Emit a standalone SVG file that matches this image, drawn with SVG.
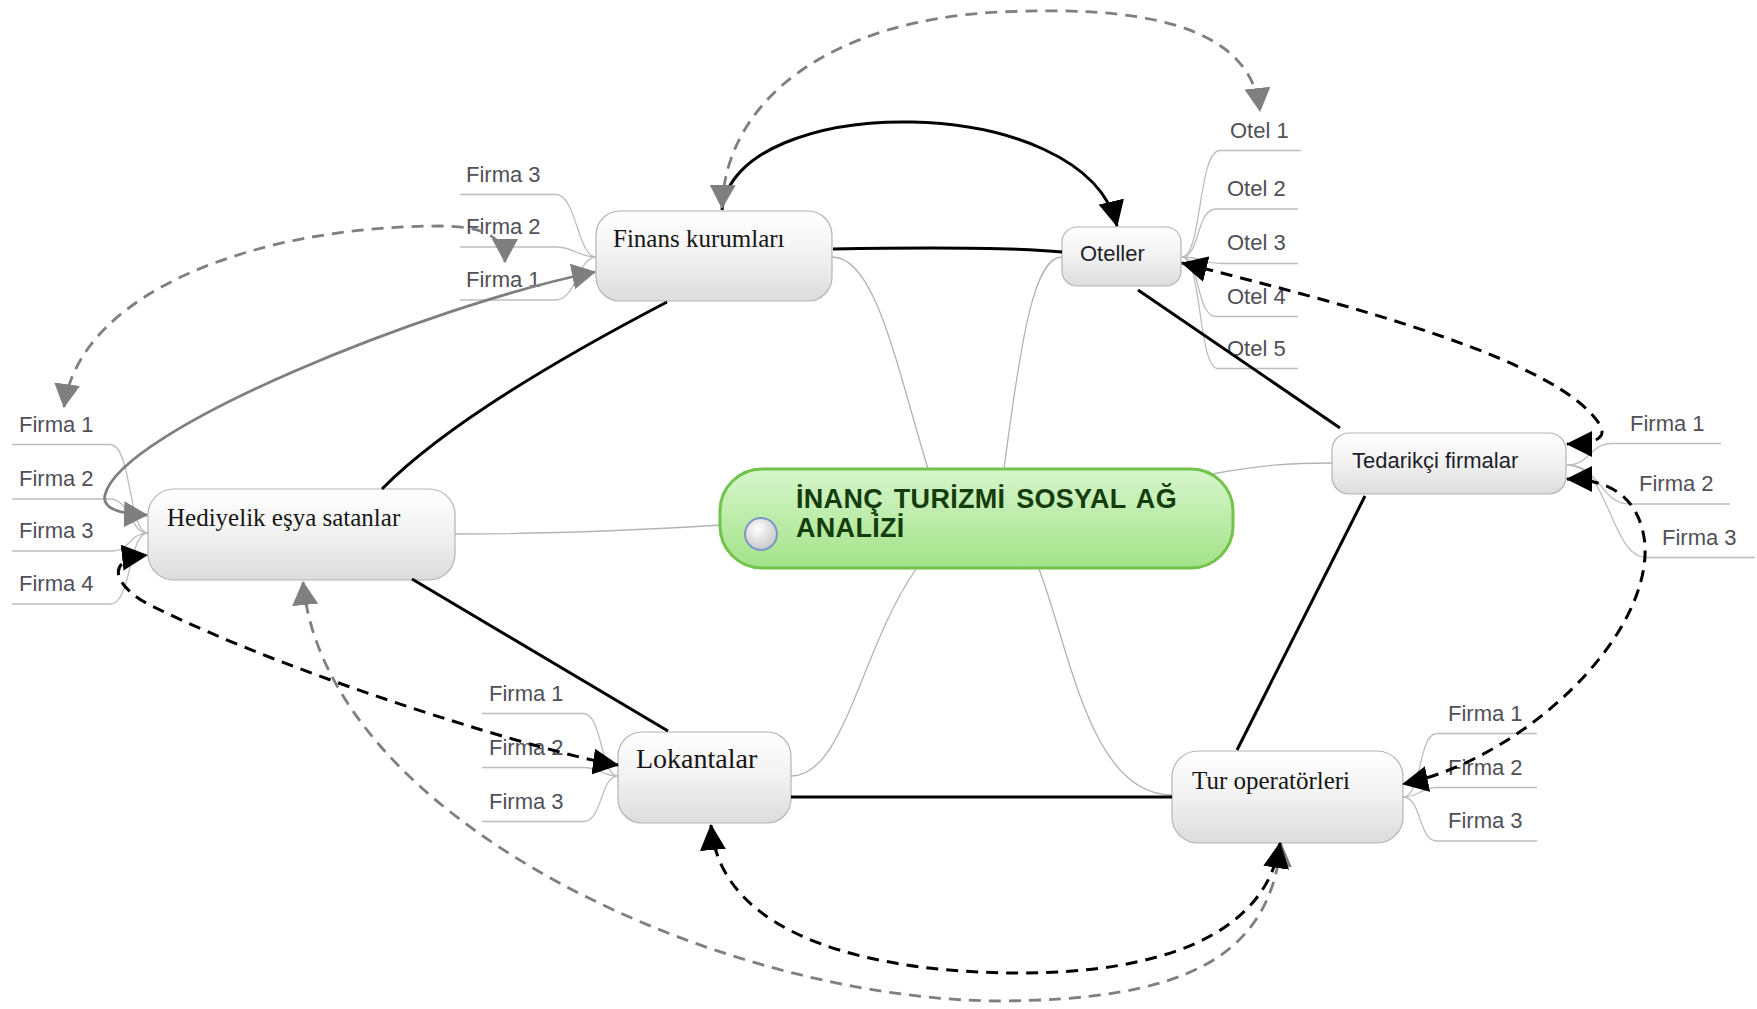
<svg xmlns="http://www.w3.org/2000/svg" width="1757" height="1009" viewBox="0 0 1757 1009">
<defs>
<linearGradient id="ng" x1="0" y1="0" x2="0" y2="1">
<stop offset="0" stop-color="#ffffff"/>
<stop offset="0.45" stop-color="#f3f3f3"/>
<stop offset="1" stop-color="#dcdcdc"/>
</linearGradient>
<linearGradient id="cg" x1="0" y1="0" x2="0" y2="1">
<stop offset="0" stop-color="#d6f6cc"/>
<stop offset="1" stop-color="#a3e288"/>
</linearGradient>
<radialGradient id="bg" cx="0.4" cy="0.35" r="0.7">
<stop offset="0" stop-color="#ffffff"/>
<stop offset="1" stop-color="#c4c4c4"/>
</radialGradient>
<marker id="ab" markerUnits="userSpaceOnUse" viewBox="0 0 26 26" markerWidth="26" markerHeight="26" refX="25" refY="13" orient="auto-start-reverse">
<path d="M0,0 L26,13 L0,26 z" fill="#000"/>
</marker>
<marker id="ag" markerUnits="userSpaceOnUse" viewBox="0 0 24 26" markerWidth="24" markerHeight="26" refX="23" refY="13" orient="auto-start-reverse">
<path d="M0,0 L24,13 L0,26 z" fill="#7f7f7f"/>
</marker>
</defs>
<style>
.node{fill:url(#ng);stroke:#b4b4b4;stroke-width:1.2}
.serif{font-family:"Liberation Serif","Times New Roman",serif;font-size:25px;fill:#151515}
.sans{font-family:"Liberation Sans",Arial,sans-serif;font-size:22px;fill:#1e1e2a}
.lbl{font-family:"Liberation Sans",Arial,sans-serif;font-size:22px;fill:#505058}
.br{fill:none;stroke:#b3b3b3;stroke-width:1.3}
.sub{fill:none;stroke:#bdbdbd;stroke-width:1.3}
.bk{fill:none;stroke:#000;stroke-width:3}
.bkd{fill:none;stroke:#000;stroke-width:3;stroke-dasharray:12 8}
.gyd{fill:none;stroke:#7f7f7f;stroke-width:2.8;stroke-dasharray:12 8}
.gy{fill:none;stroke:#7f7f7f;stroke-width:2.8}
.title{font-family:"Liberation Sans",Arial,sans-serif;font-size:27px;font-weight:bold;fill:#143c0c;letter-spacing:0.3px;word-spacing:3px}
</style>

<g id="branches">
<path class="br" d="M832,257 C875,257 895,360 928,469"/>
<path class="br" d="M1062,257 C1035,257 1022,330 1004,469"/>
<path class="br" d="M1332,463 C1290,463 1260,465 1212,474"/>
<path class="br" d="M455,534 C560,534 640,530 721,525"/>
<path class="br" d="M791,776 C845,776 860,650 916,569"/>
<path class="br" d="M1039,569 C1070,650 1090,795 1172,795"/>
<path class="sub" d="M460,194.5 H556 C576,194.5 578,257 596,257"/>
<path class="sub" d="M460,247 H556 C574,247 578,257 596,257"/>
<path class="sub" d="M460,300 H556 C576,300 578,257 596,257"/>
<path class="sub" d="M12,444.5 H110 C132,444.5 128,533 148,533"/>
<path class="sub" d="M12,499 H110 C130,499 130,533 148,533"/>
<path class="sub" d="M12,551 H112 C130,551 130,533 148,533"/>
<path class="sub" d="M12,604 H110 C132,604 128,533 148,533"/>
<path class="sub" d="M482,713.5 H583 C603,713.5 600,776 618,776"/>
<path class="sub" d="M482,767.5 H583 C600,767.5 602,776 618,776"/>
<path class="sub" d="M482,821.5 H583 C603,821.5 600,776 618,776"/>
<path class="sub" d="M1182,257 C1202,257 1198,150.5 1220,150.5 H1301"/>
<path class="sub" d="M1182,257 C1200,257 1196,209 1216,209 H1298"/>
<path class="sub" d="M1182,257 C1200,257 1204,263.5 1222,263.5 H1298"/>
<path class="sub" d="M1182,257 C1200,257 1196,316.5 1216,316.5 H1298"/>
<path class="sub" d="M1182,257 C1202,257 1198,368.5 1218,368.5 H1298"/>
<path class="sub" d="M1567,465 C1590,465 1590,443.5 1612,443.5 H1721"/>
<path class="sub" d="M1567,465 C1600,465 1600,504 1630,504 H1730"/>
<path class="sub" d="M1567,465 C1610,465 1610,557.5 1647,557.5 H1755"/>
<path class="sub" d="M1403,797 C1422,797 1418,733.5 1437,733.5 H1537"/>
<path class="sub" d="M1403,797 C1420,797 1420,787.5 1437,787.5 H1537"/>
<path class="sub" d="M1403,797 C1422,797 1418,841 1437,841 H1537"/>
</g>

<g id="center">
<rect x="720" y="469" width="513" height="99" rx="42" fill="url(#cg)" stroke="#72c24c" stroke-width="3"/>
<circle cx="761" cy="534" r="16" fill="url(#bg)" stroke="#7b98c8" stroke-width="2"/>
<text class="title" x="796" y="508">İNANÇ TURİZMİ SOSYAL AĞ</text>
<text class="title" x="796" y="537">ANALİZİ</text>
</g>

<g id="finans"><rect class="node" x="596" y="211" width="236" height="90" rx="24"/><text class="serif" x="613" y="246.5">Finans kurumları</text></g>
<g id="oteller"><rect class="node" x="1062" y="227" width="119" height="59" rx="15"/><text class="sans" x="1080" y="261">Oteller</text></g>
<g id="tedarikci"><rect class="node" x="1332" y="433" width="234" height="61" rx="17"/><text class="sans" x="1352" y="468">Tedarikçi firmalar</text></g>
<g id="hediyelik"><rect class="node" x="148" y="489" width="307" height="91" rx="26"/><text class="serif" x="167" y="526">Hediyelik eşya satanlar</text></g>
<g id="lokantalar"><rect class="node" x="618" y="732" width="173" height="91" rx="24"/><text class="serif" x="636" y="768" style="font-size:28px">Lokantalar</text></g>
<g id="tur"><rect class="node" x="1172" y="751" width="231" height="92" rx="26"/><text class="serif" x="1192" y="789">Tur operatörleri</text></g>

<g id="finans-firma3"><text class="lbl" x="466" y="181.5">Firma 3</text></g>
<g id="finans-firma2"><text class="lbl" x="466" y="234">Firma 2</text></g>
<g id="finans-firma1"><text class="lbl" x="466" y="287">Firma 1</text></g>
<g id="hediyelik-firma1"><text class="lbl" x="19" y="431.5">Firma 1</text></g>
<g id="hediyelik-firma2"><text class="lbl" x="19" y="486">Firma 2</text></g>
<g id="hediyelik-firma3"><text class="lbl" x="19" y="538">Firma 3</text></g>
<g id="hediyelik-firma4"><text class="lbl" x="19" y="591">Firma 4</text></g>
<g id="lokantalar-firma1"><text class="lbl" x="489" y="701">Firma 1</text></g>
<g id="lokantalar-firma2"><text class="lbl" x="489" y="755">Firma 2</text></g>
<g id="lokantalar-firma3"><text class="lbl" x="489" y="808.5">Firma 3</text></g>
<g id="otel1"><text class="lbl" x="1230" y="137.5">Otel 1</text></g>
<g id="otel2"><text class="lbl" x="1227" y="196">Otel 2</text></g>
<g id="otel3"><text class="lbl" x="1227" y="250">Otel 3</text></g>
<g id="otel4"><text class="lbl" x="1227" y="303.5">Otel 4</text></g>
<g id="otel5"><text class="lbl" x="1227" y="355.5">Otel 5</text></g>
<g id="tedarikci-firma1"><text class="lbl" x="1630" y="430.5">Firma 1</text></g>
<g id="tedarikci-firma2"><text class="lbl" x="1639" y="491">Firma 2</text></g>
<g id="tedarikci-firma3"><text class="lbl" x="1662" y="544.5">Firma 3</text></g>
<g id="tur-firma1"><text class="lbl" x="1448" y="720.5">Firma 1</text></g>
<g id="tur-firma2"><text class="lbl" x="1448" y="774.5">Firma 2</text></g>
<g id="tur-firma3"><text class="lbl" x="1448" y="828">Firma 3</text></g>

<g id="connectors">
<path class="bk" d="M833,249 C950,247 1020,248 1062,252"/>
<path class="bk" d="M1138,290 L1340,428"/>
<path class="bk" d="M1365,496 L1237,750"/>
<path class="bk" d="M791,797 L1172,797"/>
<path class="bk" d="M668,731 L412,579"/>
<path class="bk" d="M667,302 Q460,410 382,489"/>
<path class="bk" d="M722,210 C735,90 1085,90 1117,226" marker-end="url(#ab)"/>
<path class="gyd" d="M722,208 C725,100 830,20 1000,12 C1130,6 1250,20 1260,111" marker-start="url(#ag)" marker-end="url(#ag)"/>
<path class="gyd" d="M505,262 C505,235 480,226 440,226 C260,226 80,290 64,407" marker-start="url(#ag)" marker-end="url(#ag)"/>
<path class="gy" d="M595,272 C430,305 120,430 105,495 C102,508 118,514 147,515" marker-start="url(#ag)" marker-end="url(#ag)"/>
<path class="gyd" d="M303,582 C325,820 720,1000 1000,1001 C1180,1000 1270,960 1281,843" marker-start="url(#ag)" marker-end="url(#ag)"/>
<path class="bkd" d="M711,825 C720,940 880,973 1020,973 C1150,973 1265,940 1280,843" marker-start="url(#ab)" marker-end="url(#ab)"/>
<path class="bkd" d="M618,765 C560,757 300,680 150,605 C118,589 100,560 147,555" marker-start="url(#ab)" marker-end="url(#ab)"/>
<path class="bkd" d="M1182,263 C1350,305 1560,360 1600,425 C1606,436 1600,444 1567,444" marker-start="url(#ab)" marker-end="url(#ab)"/>
<path class="bkd" d="M1567,479 C1600,479 1640,490 1645,545 C1650,640 1520,760 1403,784" marker-start="url(#ab)" marker-end="url(#ab)"/>
</g>
</svg>
